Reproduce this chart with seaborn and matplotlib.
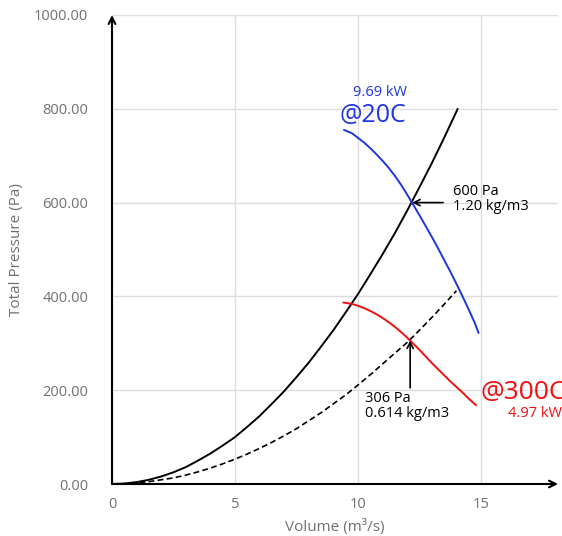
import matplotlib
matplotlib.use("Agg")
import matplotlib.pyplot as plt
import seaborn as sns
import pandas as pd

# ---- data ----
sys_volume_20 = [0, 0.5, 1, 1.5, 2, 2.5, 3, 3.5, 4, 4.5, 5, 5.5, 6, 6.5, 7, 7.5, 8, 8.5,
                 9, 9.5, 10, 10.5, 11, 11.5, 12, 12.5, 13, 13.5, 14, 14.05]
sys_p_20c = [0, 1, 4, 9, 16, 25, 36, 50, 65, 82, 100, 122, 145, 171, 198, 228, 259, 293,
             328, 366, 405, 447, 490, 535, 583, 633, 684, 738, 794, 800]

sys_volume_300 = [0, 0.5, 1, 1.5, 2, 2.5, 3, 3.5, 4, 4.5, 5, 5.5, 6, 6.5, 7, 7.5, 8, 8.5,
                  9, 9.5, 10, 10.5, 11, 11.5, 12, 12.5, 13, 13.5, 14]
sys_p_300c = [0, 0.5, 2, 5, 9, 13, 19, 26, 34, 43, 53, 64, 76, 89, 103, 118, 135, 152,
              171, 190, 211, 233, 256, 279, 302, 328, 355, 383, 412]

fan_volume_20 = [9.43, 9.75, 10, 10.25, 10.5, 10.75, 11, 11.25, 11.5, 11.75, 12, 12.25,
                 12.5, 12.75, 13, 13.25, 13.5, 13.75, 14, 14.25, 14.5, 14.75, 14.9]
fan_p_20c = [755, 748, 738, 728, 716, 703, 689, 674, 657, 638, 617, 595,
             573, 550, 527, 503, 478, 453, 427, 400, 372, 343, 322]

fan_volume_300 = [9.4, 9.75, 10, 10.25, 10.5, 10.75, 11, 11.25, 11.5, 11.75, 12, 12.25,
                  12.5, 12.75, 13, 13.25, 13.5, 13.75, 14, 14.25, 14.5, 14.8]
fan_p_300c = [387, 384, 380, 375, 369, 362, 354, 345, 335, 324, 312, 299,
              286, 272, 258, 245, 232, 219, 207, 195, 182, 168]

x_ticks = [0, 5, 10, 15]
y_ticks = [0, 200, 400, 600, 800, 1000]

op20 = (12.2, 600)
op300 = (12.12, 306)

BLUE = "#1f35e0"
RED = "#f01010"
GRID = "#dedede"
TICK = "#707070"

sns.set_theme(style="white")
plt.rcParams["font.family"] = ["Open Sans", "DejaVu Sans"]

fig = plt.figure(figsize=(5.62, 5.36), dpi=100)
ax = fig.add_axes([112 / 562, 1 - 484 / 536, (558 - 112) / 562, (484 - 15) / 536])

df_sys20 = pd.DataFrame({"q": sys_volume_20, "p": sys_p_20c})
df_sys300 = pd.DataFrame({"q": sys_volume_300, "p": sys_p_300c})
df_fan20 = pd.DataFrame({"q": fan_volume_20, "p": fan_p_20c})
df_fan300 = pd.DataFrame({"q": fan_volume_300, "p": fan_p_300c})

sns.lineplot(data=df_sys20, x="q", y="p", ax=ax, color="black", lw=1.4, sort=False, zorder=3)
sns.lineplot(data=df_sys300, x="q", y="p", ax=ax, color="black", lw=1.2, sort=False,
             linestyle=(0, (3.5, 2.0)), zorder=3)
sns.lineplot(data=df_fan20, x="q", y="p", ax=ax, color=BLUE, lw=1.4, sort=False, zorder=3)
sns.lineplot(data=df_fan300, x="q", y="p", ax=ax, color=RED, lw=1.4, sort=False, zorder=3)

xmax = (558 - 112) / 24.6
ax.set_xlim(0, xmax)
ax.set_ylim(0, 1000)
ax.set_xticks(x_ticks)
ax.set_yticks(y_ticks)
ax.set_xticklabels([str(v) for v in x_ticks], color=TICK, fontsize=10.5)
ax.set_yticklabels([f"{v:.2f}" for v in y_ticks], color=TICK, fontsize=10.5)
ax.tick_params(axis="y", length=0, pad=17)
ax.tick_params(axis="x", length=0, pad=9)
ax.grid(True, color=GRID, lw=1.0)
ax.set_axisbelow(True)
for s in ax.spines.values():
    s.set_visible(False)

ax.set_xlabel("Volume (m³/s)", color=TICK, fontsize=11, va="center")
ax.xaxis.set_label_coords(0.5, -(527 - 484) / 469)
ax.set_ylabel("Total Pressure (Pa)", color=TICK, fontsize=11, va="center")
ax.yaxis.set_label_coords((17 - 112) / 446, 0.5)

# axis arrows
ax.annotate("", xy=(0, 1000), xytext=(0, 0),
            arrowprops=dict(arrowstyle="->", color="black", lw=1.5, shrinkA=0, shrinkB=0,
                            mutation_scale=12), zorder=5)
ax.annotate("", xy=(xmax, 0), xytext=(0, 0),
            arrowprops=dict(arrowstyle="->", color="black", lw=1.5, shrinkA=0, shrinkB=0,
                            mutation_scale=12), zorder=5)

# operating point annotations
ax.annotate("", xy=op20, xytext=(13.46, 600),
            arrowprops=dict(arrowstyle="->", color="black", lw=1.2, shrinkA=0, shrinkB=0,
                            mutation_scale=11), zorder=6)
ax.text(13.86, 607, "600 Pa\n1.20 kg/m3", fontsize=10.5, color="black",
        ha="left", va="center", linespacing=0.98)

ax.annotate("", xy=op300, xytext=(12.12, 205),
            arrowprops=dict(arrowstyle="->", color="black", lw=1.2, shrinkA=0, shrinkB=0,
                            mutation_scale=11), zorder=6)
ax.text(10.28, 167, "306 Pa\n0.614 kg/m3", fontsize=10.5, color="black",
        ha="left", va="center", linespacing=0.98)

ax.text(10.89, 834, "9.69 kW", fontsize=10.5, color=BLUE, ha="center", va="center")
ax.text(10.59, 785, "@20C", fontsize=18, color=BLUE, ha="center", va="center")

ax.text(15.0, 196, "@300C", fontsize=19, color=RED, ha="left", va="center", clip_on=False)
ax.text(16.1, 151, "4.97 kW", fontsize=10.5, color=RED, ha="left", va="center", clip_on=False)

fig.savefig("out.png", dpi=100)
